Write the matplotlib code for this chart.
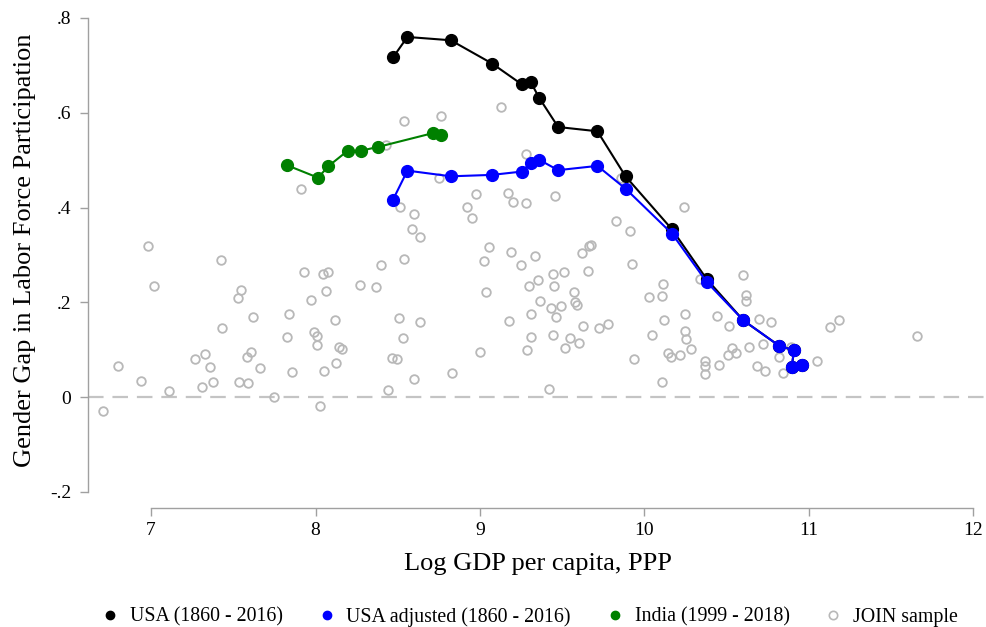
import numpy as np
import matplotlib
matplotlib.use("Agg")
import matplotlib.pyplot as plt
from matplotlib.lines import Line2D

plt.rcParams['font.family'] = ['Liberation Serif', 'DejaVu Serif']

# USA series (log GDP per capita, gender gap)
usa_x = [8.472, 8.559, 8.823, 9.074, 9.255, 9.309, 9.360, 9.476, 9.715, 9.886,
         10.169, 10.380, 10.603, 10.818, 10.911, 10.897, 10.962]
usa_y = [0.717, 0.760, 0.753, 0.704, 0.660, 0.665, 0.632, 0.570, 0.561, 0.466,
         0.354, 0.249, 0.162, 0.109, 0.0985, 0.064, 0.0675]
usa_adj_y = [0.417, 0.478, 0.466, 0.469, 0.476, 0.494, 0.501, 0.479, 0.488, 0.440,
             0.345, 0.243, 0.162, 0.109, 0.0985, 0.064, 0.0675]

india_x = [7.829, 8.016, 8.077, 8.196, 8.276, 8.381, 8.713, 8.766]
india_y = [0.489, 0.463, 0.487, 0.520, 0.520, 0.528, 0.557, 0.553]

# JOIN sample
join_x = [7.911, 6.978, 7.424, 7.016, 7.931, 8.044, 8.073, 7.549, 7.527, 8.062,
          7.971, 7.620, 7.838, 7.434, 7.825, 7.993, 8.012, 8.008, 6.799, 6.939,
          7.109, 7.268, 7.327, 7.361, 7.308, 7.379, 7.584, 7.608, 7.663, 7.535,
          7.588, 7.856, 7.750, 6.710, 8.028, 8.052,
          9.129, 8.537, 8.762, 8.429, 9.281, 8.752, 8.516, 8.601, 8.589, 8.636,
          8.979, 8.920, 8.955, 9.169, 9.204, 9.279, 9.459, 9.058, 9.027, 9.188,
          9.251, 9.338, 9.443, 9.356, 9.301, 9.453, 9.039, 8.541, 8.397, 8.273,
          8.367, 8.117, 8.508, 8.638, 8.533, 9.175, 9.366, 9.309, 9.431, 9.463,
          9.309, 9.443, 9.285, 8.144, 8.164, 8.127, 8.466, 8.498, 8.598, 8.833,
          8.999, 8.443, 9.419,
          9.861, 10.242, 9.826, 9.913, 9.678, 9.666, 9.622, 9.925, 9.660, 9.514,
          9.573, 9.577, 9.589, 9.494, 9.628, 9.727, 9.780, 9.546, 9.601, 9.520,
          9.938, 10.603, 10.617, 10.619, 10.338, 10.116, 10.029, 10.108, 10.246, 10.119,
          10.246, 10.254, 10.049, 10.283, 10.142, 10.163, 10.220, 10.110, 10.443, 10.518,
          10.368, 10.368, 10.368, 10.457, 10.508, 10.532, 10.557, 10.636, 10.695, 10.768,
          10.725, 10.684, 10.737, 10.818, 10.844,
          10.894, 11.049, 11.128, 11.185, 11.661]
join_y = [0.439, 0.320, 0.289, 0.235, 0.264, 0.259, 0.264, 0.226, 0.209, 0.225,
          0.205, 0.169, 0.176, 0.145, 0.128, 0.138, 0.129, 0.111, 0.065, 0.034,
          0.013, 0.080, 0.092, 0.063, 0.021, 0.032, 0.085, 0.096, 0.061, 0.033,
          0.030, 0.053, 0.001, -0.030, -0.019, 0.056,
          0.612, 0.582, 0.593, 0.532, 0.514, 0.462, 0.401, 0.386, 0.354, 0.338,
          0.428, 0.401, 0.378, 0.430, 0.412, 0.409, 0.425, 0.317, 0.287, 0.307,
          0.278, 0.298, 0.259, 0.248, 0.234, 0.234, 0.222, 0.291, 0.279, 0.236,
          0.232, 0.162, 0.168, 0.158, 0.125, 0.160, 0.203, 0.175, 0.188, 0.169,
          0.128, 0.131, 0.099, 0.106, 0.102, 0.072, 0.082, 0.080, 0.039, 0.052,
          0.095, 0.015, 0.017,
          0.463, 0.402, 0.371, 0.350, 0.322, 0.319, 0.305, 0.282, 0.266, 0.264,
          0.222, 0.201, 0.194, 0.193, 0.150, 0.146, 0.155, 0.124, 0.115, 0.103,
          0.080, 0.257, 0.216, 0.203, 0.249, 0.238, 0.211, 0.214, 0.175, 0.162,
          0.140, 0.123, 0.132, 0.102, 0.094, 0.085, 0.088, 0.032, 0.171, 0.150,
          0.076, 0.065, 0.049, 0.068, 0.089, 0.104, 0.093, 0.106, 0.166, 0.158,
          0.113, 0.065, 0.055, 0.085, 0.051,
          0.105, 0.076, 0.148, 0.162, 0.129]

x_ticks = [7, 8, 9, 10, 11, 12]
y_ticks = [-0.2, 0, 0.2, 0.4, 0.6, 0.8]
y_tick_labels = ['-.2', '0', '.2', '.4', '.6', '.8']
legend_labels = ['USA (1860 - 2016)', 'USA adjusted (1860 - 2016)',
                 'India (1999 - 2018)', 'JOIN sample']

gray = '#b8b8b8'
axis_gray = '#a0a0a0'

fig = plt.figure(figsize=(9.87, 6.27), dpi=100)
ax = fig.add_axes([88/987, 119/627, 899/987, 490/627])

ax.axhline(0, color='#c4c4c4', lw=1.6, dashes=(7, 4), zorder=1)

ax.plot(join_x, join_y, 'o', ms=6.2, mfc='none', mec=gray, mew=1.3, zorder=2)
ax.plot(india_x, india_y, '-o', color='#008000', lw=1.5, ms=8.5, zorder=3)
ax.plot(usa_x, usa_y, '-o', color='black', lw=1.5, ms=8.5, zorder=4)
ax.plot(usa_x, usa_adj_y, '-o', color='#0000ff', lw=1.5, ms=8.5, zorder=5)

ax.set_xlim(6.616, 12.085)
ax.set_ylim(-0.2338, 0.8)
ax.set_xticks(x_ticks)
ax.set_yticks(y_ticks)
ax.set_yticklabels(y_tick_labels)

for s in ['top', 'right']:
    ax.spines[s].set_visible(False)
ax.spines['left'].set_bounds(-0.2, 0.8)
ax.spines['bottom'].set_bounds(7, 12)
for s in ['left', 'bottom']:
    ax.spines[s].set_color(axis_gray)
    ax.spines[s].set_linewidth(1.0)
ax.tick_params(axis='both', colors=axis_gray, labelcolor='black',
               length=6, width=1.0, labelsize=14, pad=4)
ax.tick_params(axis='y', pad=6)

ax.set_xlabel('Log GDP per capita, PPP', fontsize=19, labelpad=10)
ax.set_ylabel('Gender Gap in Labor Force Participation', fontsize=19)
ax.yaxis.set_label_coords(-0.058, 0.527)

handles = [
    Line2D([], [], ls='none', marker='o', color='black', ms=6),
    Line2D([], [], ls='none', marker='o', color='#0000ff', ms=6),
    Line2D([], [], ls='none', marker='o', color='#008000', ms=6),
    Line2D([], [], ls='none', marker='o', mfc='none', mec=gray, mew=1.2, ms=6),
]
fig.legend(handles, legend_labels, loc='lower center', ncol=4, frameon=False,
           fontsize=14.3, bbox_to_anchor=(0.537, -0.028), handlelength=0.8,
           handletextpad=0.6, columnspacing=1.8)

fig.savefig('out.png', dpi=100)
